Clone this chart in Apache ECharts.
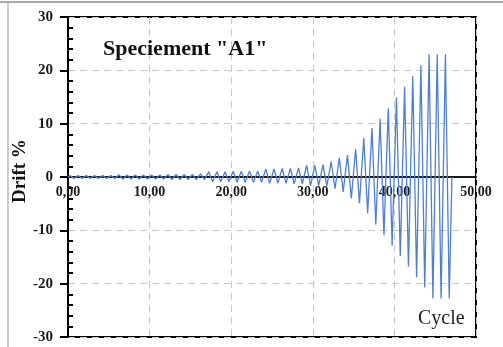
<!DOCTYPE html>
<html>
<head>
<meta charset="utf-8">
<script src="https://cdn.jsdelivr.net/npm/echarts@6/dist/echarts.min.js"></script>
<style>
  html, body { margin: 0; padding: 0; background: #fff; }
  #main { width: 503px; height: 347px; }
</style>
</head>
<body>
<div id="main"></div>
<script>
// cycle number (x) and drift peaks
var cycles = [0, 1, 2, 3, 4, 5, 6, 7, 8, 9, 10, 11, 12, 13, 14, 15, 16, 17, 18, 19,
    20, 21, 22, 23, 24, 25, 26, 27, 28, 29, 30, 31, 32, 33, 34, 35, 36, 37, 38, 39,
    40, 41, 42, 43, 44, 45, 46];
var posDrift = [0.3, 0.3, 0.3, 0.3, 0.3, 0.3, 0.4, 0.4, 0.4, 0.4, 0.4, 0.4,
    0.5, 0.5, 0.5, 0.5, 0.6, 1.0, 1.0, 1.0, 1.1, 1.1, 1.1, 1.1,
    1.5, 1.5, 1.6, 1.6, 1.7, 2.2, 2.2, 2.3,
    2.9, 3.6, 4.1, 5.2, 7.3, 9.2, 10.9, 12.9, 14.9, 16.9, 18.9, 20.9, 23.0, 23.0, 23.0];
var negDrift = [-0.3, -0.3, -0.3, -0.3, -0.3, -0.3, -0.4, -0.4, -0.4, -0.4, -0.4, -0.4,
    -0.5, -0.5, -0.5, -0.5, -0.5, -0.9, -0.9, -0.9, -1.0, -1.0, -1.0, -1.0,
    -1.2, -1.2, -1.2, -1.3, -1.3, -1.6, -1.6, -1.7,
    -2.2, -2.8, -4.0, -4.9, -6.8, -8.9, -10.9, -12.9, -14.8, -16.8, -18.8, -20.7, -22.8, -22.8, -22.8];
var yTicks = [-30, -20, -10, 0, 10, 20, 30];
var xTicks = [0, 10, 20, 30, 40, 50];
var lastCycleEnd = 47.05;

var points = [[0, 0]];
for (var i = 0; i < cycles.length; i++) {
    points.push([cycles[i] + 0.25, posDrift[i]]);
    points.push([cycles[i] + 0.72, negDrift[i]]);
}
points.push([lastCycleEnd, 0]);

var serif = '"Liberation Serif", "Times New Roman", serif';
var chart = echarts.init(document.getElementById('main'));

var dashed = { show: true, lineStyle: { color: '#c8c8c8', type: [7, 5], width: 1 } };

chart.setOption({
    animation: false,
    backgroundColor: '#fff',
    grid: {
        left: 68, right: 27, top: 17, bottom: 10,
        outerBoundsMode: 'none',
        show: true, borderColor: '#000', borderWidth: 2
    },
    xAxis: [{
        // only the dashed grid columns
        type: 'value',
        min: xTicks[0], max: xTicks[xTicks.length - 1], interval: 10,
        axisLine: { show: false },
        axisTick: { show: false },
        axisLabel: { show: false },
        splitLine: dashed
    }, {
        // axis line and labels sitting on the zero line (160px above the bottom)
        type: 'value', position: 'bottom', offset: -160,
        min: xTicks[0], max: xTicks[xTicks.length - 1], interval: 10,
        axisLine: { show: true, onZero: false, lineStyle: { color: '#1a1a1a', width: 2 } },
        axisTick: { show: false },
        axisLabel: {
            margin: 8,
            fontFamily: serif, fontWeight: 'bold', fontSize: 14, color: '#1a1a1a',
            formatter: function (v) { return v.toFixed(2).replace('.', ','); }
        },
        splitLine: { show: false }
    }],
    yAxis: [{
        type: 'value',
        min: yTicks[0], max: yTicks[yTicks.length - 1], interval: 10,
        axisLine: { show: true, onZero: false, lineStyle: { color: '#000', width: 2 } },
        axisTick: { show: true, length: 8, lineStyle: { color: '#000', width: 2 } },
        axisLabel: {
            margin: 15,
            fontFamily: serif, fontWeight: 'bold', fontSize: 15, color: '#1a1a1a'
        },
        splitLine: dashed
    }, {
        // minor ticks pointing into the plot
        type: 'value', position: 'left',
        min: yTicks[0], max: yTicks[yTicks.length - 1], interval: 10,
        axisLine: { show: false, onZero: false },
        axisTick: { show: false, inside: true },
        minorTick: { show: true, splitNumber: 5, length: 5, lineStyle: { color: '#000', width: 2 } },
        axisLabel: { show: false },
        splitLine: { show: false }
    }],
    graphic: [
        { type: 'line', shape: { x1: 0, y1: 2, x2: 503, y2: 2 }, style: { stroke: '#555', lineWidth: 1 } },
        { type: 'line', shape: { x1: 8, y1: 2, x2: 8, y2: 347 }, style: { stroke: '#999', lineWidth: 1 } },
        {
            type: 'text', left: 103, top: 38, z: 10,
            style: { text: 'Speciement "A1"', font: 'bold 22px ' + serif, fill: '#111' }
        },
        {
            type: 'text', left: 418, top: 309, z: 10,
            style: { text: 'Cycle', font: '20px ' + serif, fill: '#222' }
        },
        {
            type: 'text', x: 11, y: 203, rotation: Math.PI / 2, z: 10,
            style: { text: 'Drift %', font: 'bold 19px ' + serif, fill: '#111' }
        }
    ],
    series: [{
        type: 'line',
        xAxisIndex: 0,
        data: points,
        showSymbol: false,
        symbol: 'none',
        lineStyle: { color: '#4f7fd0', width: 1.3 },
        z: 1
    }]
});
</script>
</body>
</html>
